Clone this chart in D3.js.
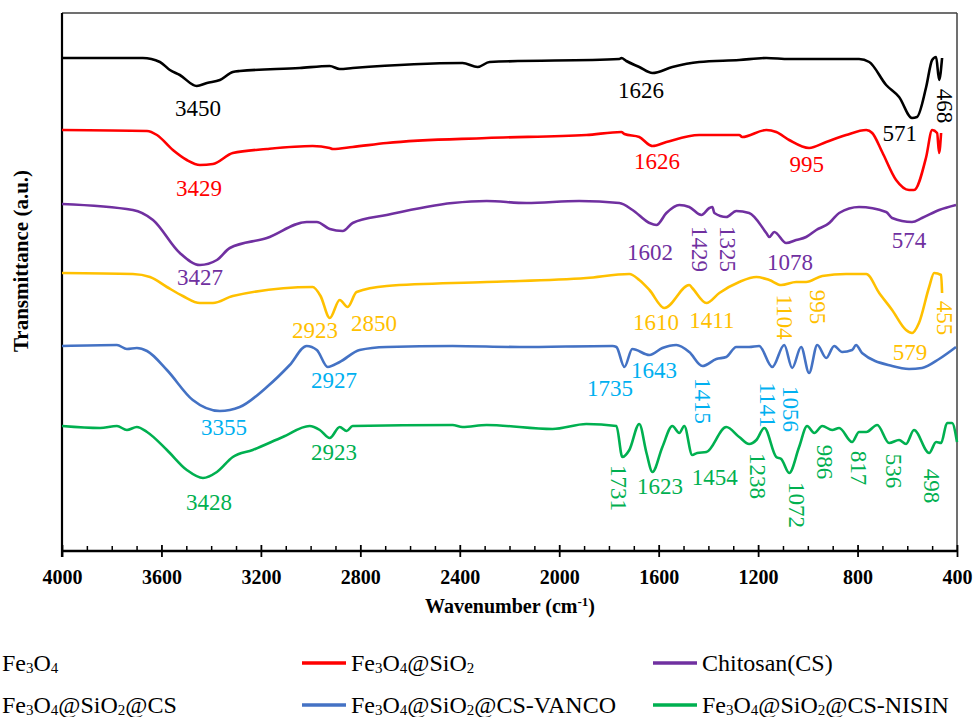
<!DOCTYPE html>
<html lang="en">
<head>
<meta charset="UTF-8" />
<title>FTIR spectra</title>
<script src="https://d3js.org/d3.v7.min.js"></script>
<style>
  body { margin: 0; background: #fff; }
  svg { display: block; }
  text { font-family: "Liberation Serif", "Times New Roman", serif; }
</style>
</head>
<body>
<svg id="chart" width="976" height="717"></svg>
<script>
// axis ticks (cm-1)
const majorTicks = [4000, 3600, 3200, 2800, 2400, 2000, 1600, 1200, 800, 400];
const minorTicks = d3.range(400, 4001, 100).filter(v => v % 400 !== 0);

const seriesNames = [
  "Fe3O4",
  "Fe3O4@SiO2",
  "Chitosan(CS)",
  "Fe3O4@SiO2@CS",
  "Fe3O4@SiO2@CS-VANCO",
  "Fe3O4@SiO2@CS-NISIN"
];
const lineColors = ["#000000", "#ff0000", "#7030a0", "#ffc000", "#4472c4", "#00b050"];
const labelColors = ["#000000", "#ff0000", "#7030a0", "#ffc000", "#00b0f0", "#00b050"];

// [wavenumber, transmittance (a.u., stacked)]
const fe3o4 = [
  [4000, 493], [3675, 493], [3606, 489], [3566, 481], [3526, 476], [3458, 465], [3417, 468],
  [3365, 471], [3313, 479], [3285, 480], [3044, 483], [2923, 485], [2883, 482], [2831, 483],
  [2389, 488], [2328, 484], [2280, 489], [1758, 492], [1750, 493], [1730, 490], [1678, 484],
  [1625, 478], [1545, 484], [1437, 489], [1276, 491], [1167, 493], [1075, 492], [926, 492],
  [794, 492], [753, 489], [685, 466], [633, 454], [581, 433], [561, 434], [524, 464],
  [500, 491], [484, 494], [472, 471], [460, 493]
];
const fe3o4Si = [
  [4000, 421], [3658, 420], [3618, 416], [3554, 401], [3498, 391], [3445, 386], [3393, 387],
  [3313, 398], [3176, 402], [2992, 405], [2923, 403], [2911, 402], [2831, 404], [2694, 408],
  [2292, 413], [1891, 416], [1750, 419], [1738, 417], [1678, 414], [1637, 406], [1625, 405],
  [1569, 409], [1437, 416], [1276, 416], [1264, 414], [1167, 421], [1127, 419], [1075, 411],
  [995, 403], [926, 409], [846, 416], [765, 421], [741, 418], [701, 399], [645, 371],
  [593, 361], [573, 361], [524, 394], [500, 421], [480, 418], [472, 398], [464, 418]
];
const chitosan = [
  [4000, 347], [3715, 341], [3634, 331], [3526, 298], [3445, 286], [3377, 291], [3325, 303],
  [3176, 313], [3016, 329], [2975, 329], [2923, 322], [2871, 320], [2831, 328], [2694, 336],
  [2429, 348], [2292, 350], [2132, 348], [1920, 350], [1758, 348], [1705, 341], [1637, 328],
  [1609, 326], [1569, 338], [1517, 346], [1477, 344], [1428, 336], [1396, 343], [1384, 344],
  [1376, 338], [1328, 334], [1288, 340], [1236, 338], [1167, 318], [1155, 314], [1135, 319],
  [1087, 308], [1047, 311], [1007, 314], [966, 321], [914, 328], [902, 331], [874, 338],
  [794, 344], [685, 339], [661, 333], [581, 329], [541, 333], [472, 341], [404, 346]
];
const fe3o4SiCs = [
  [4000, 278], [3715, 277], [3646, 274], [3578, 264], [3514, 255], [3445, 248], [3393, 248],
  [3313, 255], [2992, 264], [2960, 255], [2923, 233], [2883, 251], [2851, 244], [2815, 259],
  [2694, 265], [2292, 269], [1891, 273], [1718, 277], [1678, 271], [1637, 261], [1577, 243],
  [1477, 266], [1465, 263], [1408, 248], [1356, 258], [1276, 269], [1207, 274], [1155, 271],
  [1107, 266], [1047, 269], [1007, 269], [942, 275], [846, 277], [765, 277], [713, 258],
  [661, 241], [605, 221], [581, 218], [553, 228], [512, 264], [492, 278], [464, 276], [460, 258]
];
const vanco = [
  [4000, 205], [3779, 206], [3739, 202], [3699, 203], [3658, 200], [3578, 181], [3474, 151],
  [3365, 140], [3285, 144], [3176, 164], [3084, 186], [3016, 205], [2975, 201], [2931, 184],
  [2883, 189], [2803, 201], [2694, 204], [2429, 205], [2160, 204], [1786, 205], [1770, 204],
  [1738, 184], [1706, 202], [1637, 196], [1585, 203], [1529, 206], [1477, 199], [1424, 185],
  [1368, 192], [1328, 194], [1288, 204], [1236, 204], [1196, 205], [1143, 184], [1095, 206],
  [1063, 183], [1027, 204], [995, 178], [962, 206], [926, 193], [894, 205], [862, 199],
  [822, 201], [806, 206], [782, 198], [661, 185], [593, 182], [541, 183], [472, 192], [404, 204]
];
const nisin = [
  [4000, 125], [3847, 123], [3779, 125], [3739, 121], [3699, 124], [3658, 119], [3578, 101],
  [3498, 81], [3433, 73], [3377, 79], [3313, 94], [3233, 101], [3112, 114], [3004, 125],
  [2963, 121], [2923, 113], [2883, 124], [2855, 120], [2831, 125], [2429, 126], [2389, 124],
  [2292, 126], [2027, 122], [1891, 127], [1770, 125], [1746, 94], [1718, 101], [1678, 127],
  [1649, 98], [1625, 79], [1585, 104], [1545, 125], [1517, 118], [1497, 125], [1465, 96],
  [1445, 98], [1408, 99], [1328, 124], [1276, 114], [1236, 107], [1207, 111], [1175, 123],
  [1127, 94], [1107, 92], [1075, 78], [1035, 104], [1003, 125], [974, 118], [942, 125],
  [902, 121], [874, 123], [822, 109], [794, 119], [765, 119], [721, 126], [673, 108],
  [633, 111], [605, 107], [573, 121], [512, 98], [484, 109], [464, 108], [440, 128],
  [420, 128], [400, 109]
];
const spectra = [fe3o4, fe3o4Si, chitosan, fe3o4SiCs, vanco, nisin];

// peak annotations: [text, wavenumber, a.u., vertical?]
const peakLabels = [
  [["3450", 3453, 443], ["1626", 1671, 461], ["571", 630, 418], ["468", 449, 445, true]],
  [["3429", 3449, 363], ["1626", 1607, 390], ["995", 1004, 387]],
  [["3427", 3445, 274], ["1602", 1635, 299], ["1429", 1434, 302, true], ["1325", 1325, 302, true],
   ["1078", 1072, 289], ["574", 593, 311]],
  [["2923", 2982, 221], ["2850", 2745, 228], ["1610", 1611, 229], ["1411", 1386, 231],
   ["1104", 1092, 234, true], ["995", 963, 244, true], ["579", 589, 199], ["455", 449, 233, true]],
  [["3355", 3348, 124], ["2927", 2906, 171], ["1735", 1796, 163], ["1643", 1619, 181],
   ["1415", 1422, 150, true], ["1141", 1161, 146, true], ["1056", 1068, 142, true]],
  [["3428", 3409, 49], ["2923", 2906, 99], ["1731", 1760, 63, true], ["1623", 1595, 65],
   ["1454", 1374, 74], ["1238", 1201, 75, true], ["1072", 1044, 46, true], ["986", 931, 89, true],
   ["817", 795, 83, true], ["536", 654, 80, true], ["498", 501, 65, true]]
];

const svg = d3.select("#chart");
const m = { left: 62, right: 957, top: 13, bottom: 551 };

const x = d3.scaleLinear().domain([4000, 400]).range([m.left, m.right]);
const y = d3.scaleLinear().domain([0, 538]).range([m.bottom, m.top]);

// frame
svg.append("line").attr("x1", m.left).attr("x2", m.right).attr("y1", m.top).attr("y2", m.top)
  .attr("stroke", "#404040").attr("stroke-width", 1.5);
svg.append("line").attr("x1", m.right).attr("x2", m.right).attr("y1", m.top).attr("y2", m.bottom)
  .attr("stroke", "#404040").attr("stroke-width", 1.5);
svg.append("line").attr("x1", m.left).attr("x2", m.left).attr("y1", m.top).attr("y2", m.bottom + 6)
  .attr("stroke", "#000").attr("stroke-width", 2.2);

// minor ticks
const minorAxis = svg.append("g").attr("transform", `translate(0,${m.bottom})`)
  .call(d3.axisBottom(x).tickValues(minorTicks).tickFormat("").tickSizeOuter(0));
minorAxis.select(".domain").remove();
minorAxis.selectAll(".tick line").attr("y1", -5).attr("y2", 0)
  .attr("stroke", "#000").attr("stroke-width", 1.5);

// major ticks + labels
const xAxis = svg.append("g").attr("transform", `translate(0,${m.bottom})`)
  .call(d3.axisBottom(x).tickValues(majorTicks).tickFormat(d3.format("d")).tickSizeOuter(0));
xAxis.select(".domain").attr("stroke", "#000").attr("stroke-width", 2.5).attr("d", `M${m.left},0H${m.right}`);
xAxis.selectAll(".tick line").attr("y1", -6).attr("y2", 6)
  .attr("stroke", "#000").attr("stroke-width", 1.8);
xAxis.selectAll(".tick text")
  .attr("y", 19)
  .attr("fill", "#000")
  .style("font-family", '"Liberation Serif", "Times New Roman", serif')
  .style("font-size", "20px")
  .style("font-weight", "bold");

// axis titles
const xTitle = svg.append("text")
  .attr("x", 510).attr("y", 613)
  .attr("text-anchor", "middle")
  .style("font-size", "20px").style("font-weight", "bold");
xTitle.append("tspan").text("Wavenumber (cm");
xTitle.append("tspan").attr("dy", -7).style("font-size", "13px").text("-1");
xTitle.append("tspan").attr("dy", 7).text(")");

svg.append("text")
  .attr("transform", "translate(21,261) rotate(-90)")
  .attr("text-anchor", "middle")
  .attr("dominant-baseline", "central")
  .style("font-size", "21px").style("font-weight", "bold")
  .text("Transmittance (a.u.)");

// spectra
const line = d3.line()
  .x(d => x(d[0]))
  .y(d => y(d[1]))
  .curve(d3.curveMonotoneX);

svg.append("g").selectAll("path")
  .data(spectra)
  .join("path")
  .attr("d", line)
  .attr("fill", "none")
  .attr("stroke", (d, i) => lineColors[i])
  .attr("stroke-width", 2.6)
  .attr("stroke-linejoin", "round");

// peak labels
peakLabels.forEach((labels, i) => {
  svg.append("g").selectAll("text")
    .data(labels)
    .join("text")
    .attr("transform", d => `translate(${x(d[1])},${y(d[2])})` + (d[3] ? " rotate(90)" : ""))
    .attr("text-anchor", "middle")
    .attr("dominant-baseline", "central")
    .attr("fill", labelColors[i])
    .style("font-size", "23px")
    .text(d => d[0]);
});

// legend (digits drawn as subscripts)
function chemText(sel, label) {
  const parts = label.split(/(\d+)/).filter(p => p.length);
  let shifted = false;
  parts.forEach(p => {
    const isNum = /^\d+$/.test(p);
    const t = sel.append("tspan").text(p);
    if (isNum) { t.attr("dy", 2).style("font-size", "15px"); shifted = true; }
    else if (shifted) { t.attr("dy", -2); shifted = false; }
  });
}

const legendCols = [-47, 302, 653];
const legendRows = [663, 705];
seriesNames.forEach((name, i) => {
  const lx = legendCols[i % 3], ly = legendRows[Math.floor(i / 3)];
  const g = svg.append("g").attr("transform", `translate(${lx},${ly})`);
  g.append("line").attr("x1", 0).attr("x2", 44).attr("y1", 0).attr("y2", 0)
    .attr("stroke", lineColors[i]).attr("stroke-width", 3.5);
  const t = g.append("text").attr("x", 49).attr("y", 8)
    .style("font-size", "24px").attr("fill", "#000");
  chemText(t, name);
});
</script>
</body>
</html>
